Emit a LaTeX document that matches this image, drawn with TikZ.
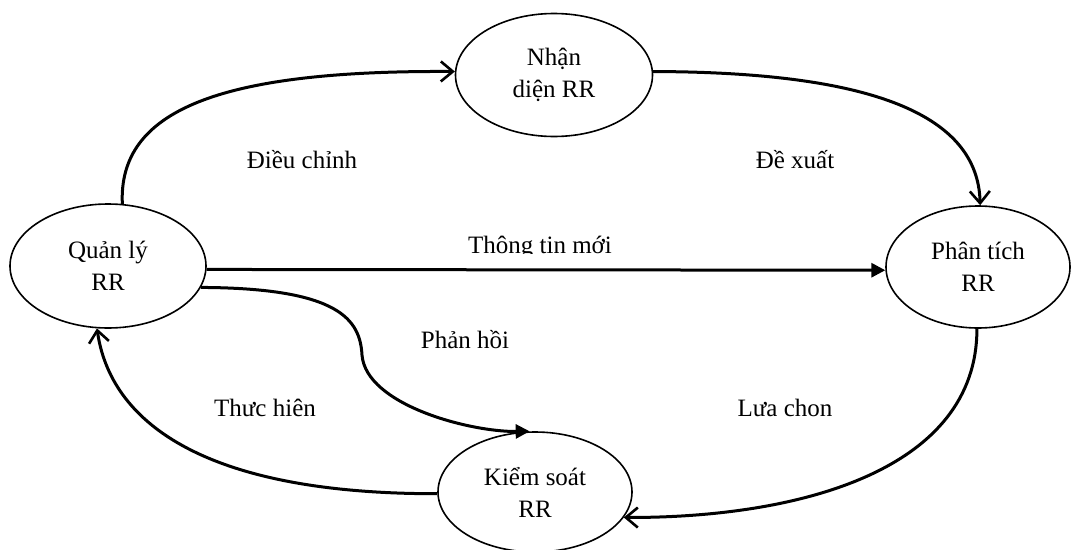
\documentclass[tikz,border=0pt]{standalone}
\usepackage{fontspec}
\setmainfont{Liberation Serif}
\usetikzlibrary{shapes.geometric,arrows.meta}
\begin{document}
\begin{tikzpicture}[x=1pt,y=-1pt,
  stage/.style={ellipse,draw,line width=1.6pt,inner sep=0pt,align=center,
    font=\fontsize{25}{32}\selectfont},
  flow/.style={line width=3pt,-{Straight Barb[length=12pt,width=20pt,line width=2.6pt]}},
  push/.style={line width=3pt,-{Triangle[length=14pt,width=14pt]}},
  lbl/.style={font=\fontsize{25}{32}\selectfont,inner sep=0pt}]
\useasboundingbox (0,0) rectangle (1071,549);

% stages of the cycle
\node[stage,minimum width=197pt,minimum height=123pt] (nd) at (554,75) {Nhận\\diện RR};
\node[stage,minimum width=196pt,minimum height=124pt] (ql) at (108,266) {Quản lý\\RR};
\node[stage,minimum width=184pt,minimum height=122pt] (pt) at (978,267) {Phân tích\\RR};
\node[stage,minimum width=194pt,minimum height=120pt] (ks) at (535,492) {Kiểm soát\\RR};

% connectors
\draw[flow] (ql.77) .. controls (118,110) and (220,70) .. (nd.178);
\draw[flow] (nd.2) .. controls (860,72) and (978,110) .. (pt.88);
\draw[push] (ql.-2) -- (pt.182);
\draw[push] (ql.-13) .. controls (340,288) and (360,320) .. (362,355)
  .. controls (366,405) and (470,432) .. (ks.95);
\draw[flow] (pt.269) .. controls (977,470) and (800,518) .. (ks.-16);
\draw[flow] (ks.181) .. controls (200,494) and (110,420) .. (ql.260);

% labels
\node[lbl] (l1) at (302,160) {Điều chỉnh};
\node[lbl] (l2) at (795,160) {Đề xuất};
\begin{scope}
  \clip (380,225) rectangle (700,253);
  \node[lbl,anchor=base] (l3) at (540,253) {Thông tin mới};
\end{scope}
\node[lbl] (l4) at (465,340) {Phản hồi};
\node[lbl] (l5) at (265,408) {Thưc hiên};
\node[lbl] (l6) at (785,408) {Lưa chon};
\end{tikzpicture}
\end{document}
